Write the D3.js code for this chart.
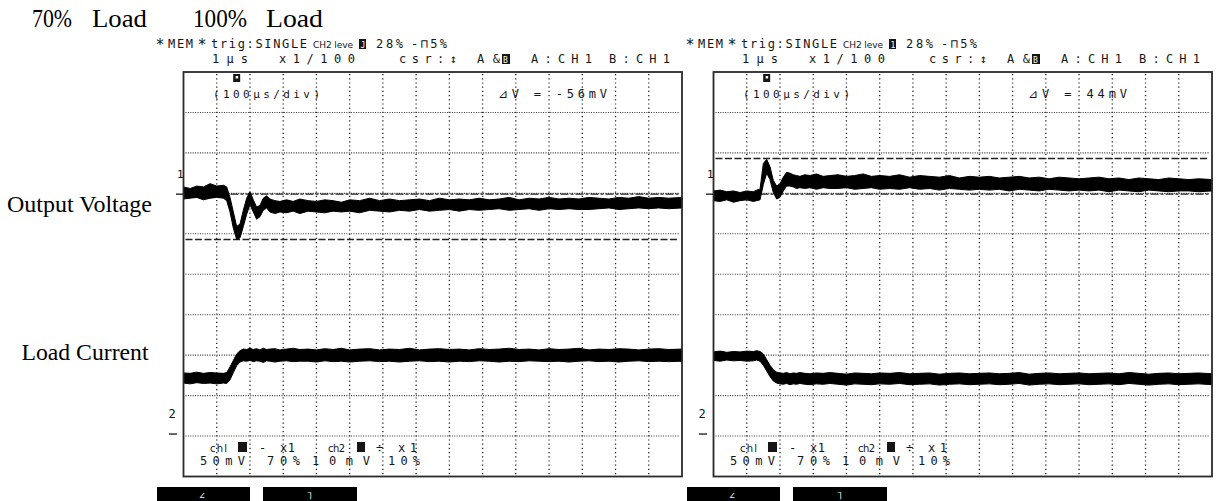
<!DOCTYPE html>
<html><head><meta charset="utf-8">
<script src="https://cdn.jsdelivr.net/npm/d3@7"></script>
<style>html,body{margin:0;padding:0;background:#fff;overflow:hidden}svg{display:block}</style>
</head><body><svg id="c" width="1220" height="501"></svg>
<script>
// ---------------- DATA ----------------
const titleWords = ["70%", "Load", "100%", "Load"];
const rowLabels = ["Output Voltage", "Load Current"];
const timeUs = [0,20,40,60,80,100,120,130,140,150,160,170,180,190,200,210,220,230,240,250,260,275,290,310,330,350,375,400,425,450,475,500,530,560,590,620,650,680,710,740,770,800,830,860,890,920,950,980,1010,1040,1070,1100,1130,1160,1190,1220,1250,1280,1310,1340,1370,1400,1430,1460,1500];

// 70% load panel: CH1 output voltage (mV vs ch1 marker), CH2 load current (mV vs ch2 marker)
const v70Upper = [9,7,10,9,13,10, 11,9,-4,-22,-40,-37,-20,-5,3, -7,-16,-14,-5,-2,-6, -8,-9,-7,-9,-6, -8,-9,-7,-8,-10,-7, -8,-5,-8,-6,-8,-7,-6,-8,-5,-7, -6,-7,-5,-7,-6,-4,-7,-5,-6,-4, -6,-5,-6,-4,-5,-6,-4,-5,-3,-5, -4,-5,-4];
const v70Lower = [-6,-5,-4,-7,-5,-4, -5,-8,-22,-42,-56,-54,-40,-25,-13, -22,-31,-28,-20,-17,-22, -24,-22,-23,-21,-24, -21,-22,-23,-21,-22,-21, -23,-20,-21,-22,-20,-21,-19,-21,-20,-19, -21,-19,-20,-19,-18,-20,-19,-18,-20,-18, -19,-18,-19,-19,-18,-17,-19,-18,-17,-18, -17,-18,-17];
const i70Upper = [15.1,15.0,15.3,15.0,15.2,15.1, 15.0,15.2,16.6,18.2,19.8,20.6,21.0,20.9,21.2, 20.9,21.1,20.8,21.2,20.9,21.0, 21.1,20.8,21.0,21.2,20.9, 21.0,20.8,21.1,20.9,21.2,20.8, 21.0,21.1,20.8,21.0,20.9,21.2,20.8,21.0,21.1,20.9, 21.0,20.8,21.1,20.9,21.0,21.2,20.9,21.0,20.8,21.1, 20.9,21.0,21.2,20.8,21.0,20.9,21.1,21.0,20.8,21.0, 21.1,20.9,21.0];
const i70Lower = [12.6,12.4,12.7,12.5,12.6,12.4, 12.6,12.5,13.4,15.2,16.9,17.8,18.1,18.0,18.2, 17.9,18.1,18.0,17.7,18.1,18.0, 17.8,18.0,18.1,17.9,18.0, 18.0,17.8,18.1,17.9,18.0,17.8, 18.0,18.1,17.9,18.0,17.8,18.0,18.1,17.9,18.0,17.8, 18.0,17.9,18.1,18.0,17.8,18.0,17.9,18.1,18.0,17.9, 18.0,17.8,18.0,18.1,17.9,18.0,17.8,18.0,18.1,17.9, 18.0,17.9,18.0];

// 100% load panel
const v100Upper = [4,5,3,4,2,4, 3,5,6,38,43,34,17,10,13, 21,27,26,24,23,22, 24,23,25,22,23, 24,22,23,25,22,23, 22,24,21,23,22,21,23,20,22,21, 22,20,21,22,20,21,19,21,20,19, 20,21,19,20,18,20,19,18,20,19, 18,19,18];
const v100Lower = [-8,-9,-7,-10,-8,-7, -9,-8,-7,12,26,18,2,-6,-4, 4,10,10,9,7,8, 7,8,6,8,7, 7,8,6,7,8,6, 7,6,8,6,7,5,7,6,5,6, 5,6,4,6,5,4,6,5,4,5, 4,5,3,5,4,3,5,4,3,4, 4,3,4];
const i100Upper = [20.3,20.5,20.2,20.4,20.3,20.5, 20.4,20.6,20.4,19.8,18.4,17.0,15.9,15.3,15.1, 15.0,15.2,14.9,15.1,15.0,15.2, 15.0,14.9,15.1,15.0,15.2, 15.0,14.8,15.1,15.0,14.9,15.1, 15.0,15.2,14.9,15.0,15.1,14.8,15.0,15.1,14.9,15.0, 15.1,14.9,15.0,15.2,14.8,15.0,15.1,14.9,15.0,15.1, 14.9,15.0,15.1,14.9,15.2,15.0,14.8,15.0,15.1,14.9, 15.0,15.1,14.9];
const i100Lower = [18.2,18.0,18.3,18.1,18.2,18.0, 18.1,18.3,18.0,17.0,15.6,14.2,13.1,12.6,12.4, 12.3,12.5,12.2,12.4,12.3,12.5, 12.3,12.2,12.4,12.3,12.5, 12.3,12.1,12.4,12.3,12.2,12.4, 12.3,12.5,12.2,12.3,12.4,12.1,12.3,12.4,12.2,12.3, 12.4,12.2,12.3,12.5,12.1,12.3,12.4,12.2,12.3,12.4, 12.2,12.3,12.4,12.2,12.5,12.3,12.1,12.3,12.4,12.2, 12.3,12.4,12.2];

const cursorsMv = [[0, -56], [0, 44]];
const deltaLabels = ["⊿V = -56mV", "⊿V = 44mV"];
const triggerUs = [160, 160];
const headerLine1 = ["*", "MEM", "*", "trig:SINGLE", "CH2 leve", "28%", "-⊓5%"];
const headerLine2 = ["1µs", "x1/100", "csr:↕", "A&", "A:CH1", "B:CH1"];
const timebaseLabel = "(100µs/div)";
const chLine1 = ["chl", "-", "x1", "ch2", "÷", "x1"];
const chLine2 = ["50mV", "70%", "10mV", "10%"];
const ch1Scale = 50, ch2Scale = 10;   // mV/div
const ch1OffsetDiv = 1.98, ch2OffsetDiv = -3.95; // marker position vs screen centre

// ---------------- DRAWING ----------------
const svg = d3.select("#c");
const serif = "'Liberation Serif','Times New Roman',serif";
const mono = "'DejaVu Sans Mono',monospace";
const ink = "#151515";

const titleX = [32, 92, 193, 266], titleW = [40, 55, 54, 57];
svg.selectAll("text.title").data(titleWords).join("text")
  .attr("x", (d, i) => titleX[i]).attr("y", 27)
  .attr("font-family", serif).attr("font-size", 25).attr("fill", "#000")
  .attr("textLength", (d, i) => titleW[i]).attr("lengthAdjust", "spacingAndGlyphs")
  .text(d => d);

const labelX = [7, 21.5], labelY = [212, 360], labelW = [145, 127];
svg.selectAll("text.rowlab").data(rowLabels).join("text")
  .attr("x", (d, i) => labelX[i]).attr("y", (d, i) => labelY[i])
  .attr("font-family", serif).attr("font-size", 24).attr("fill", "#000")
  .attr("textLength", (d, i) => labelW[i]).attr("lengthAdjust", "spacingAndGlyphs")
  .text(d => d);

const panels = [
  {dx: 0, vU: v70Upper, vL: v70Lower, iU: i70Upper, iL: i70Lower},
  {dx: 530, vU: v100Upper, vL: v100Lower, iU: i100Upper, iL: i100Lower}
];

const F = {left: 183.5, right: 682, top: 72, bottom: 476.5};

function txt(g, s, x, y, opt = {}) {
  const t = g.append("text").attr("x", x).attr("y", y)
    .attr("font-family", opt.family || mono).attr("font-size", opt.size || 12)
    .attr("fill", opt.fill || ink).attr("font-weight", opt.weight || "normal").text(s);
  if (opt.tl) t.attr("textLength", opt.tl).attr("lengthAdjust", opt.squash ? "spacingAndGlyphs" : "spacing");
  return t;
}

panels.forEach((p, pi) => {
  const g = svg.append("g").attr("transform", `translate(${p.dx},0)`);
  const x = d3.scaleLinear().domain([0, 1500]).range([F.left, F.right]);
  const y1 = d3.scaleLinear().domain([-(5 + ch1OffsetDiv) * ch1Scale, (5 - ch1OffsetDiv) * ch1Scale]).range([F.bottom, F.top]);
  const y2 = d3.scaleLinear().domain([-(5 + ch2OffsetDiv) * ch2Scale, (5 - ch2OffsetDiv) * ch2Scale]).range([F.bottom, F.top]);
  const divY = d3.scaleLinear().domain([0, 10]).range([F.top, F.bottom]);

  // grid
  const vx = d3.range(1, 15).map(k => x(k * 100));
  g.selectAll("line.gv").data(vx).join("line")
    .attr("x1", d => d).attr("x2", d => d).attr("y1", F.top + 2).attr("y2", F.bottom - 2)
    .attr("stroke", "#222").attr("stroke-width", 1.3).attr("stroke-dasharray", "1.2,3");
  const hy = d3.range(1, 10).map(k => divY(k));
  g.selectAll("line.gh").data(hy).join("line")
    .attr("x1", F.left + 2).attr("x2", F.right - 2).attr("y1", d => d).attr("y2", d => d)
    .attr("stroke", "#333").attr("stroke-width", 1.1).attr("stroke-dasharray", "1,1.4");

  // cursors
  const cur = cursorsMv[pi];
  g.append("line").attr("x1", F.left + 2).attr("x2", F.right - 3)
    .attr("y1", y1(cur[0])).attr("y2", y1(cur[0]))
    .attr("stroke", "#222").attr("stroke-width", 1.4).attr("stroke-dasharray", "8,2,3,2");
  g.append("line").attr("x1", F.left + 2).attr("x2", F.right - 3)
    .attr("y1", y1(cur[1])).attr("y2", y1(cur[1]))
    .attr("stroke", "#222").attr("stroke-width", 1.4).attr("stroke-dasharray", "7,2.5");

  // traces
  const idx = d3.range(timeUs.length);
  const areaV = d3.area().x(i => x(timeUs[i])).y0(i => y1(p.vL[i])).y1(i => y1(p.vU[i]));
  const areaI = d3.area().x(i => x(timeUs[i])).y0(i => y2(p.iL[i])).y1(i => y2(p.iU[i]));
  g.append("path").attr("d", areaV(idx)).attr("fill", "#000").attr("stroke", "#000").attr("stroke-width", 1).attr("stroke-linejoin", "miter");
  g.append("path").attr("d", areaI(idx)).attr("fill", "#000").attr("stroke", "#000").attr("stroke-width", 1).attr("stroke-linejoin", "miter");

  // frame
  g.append("rect").attr("x", F.left).attr("y", F.top)
    .attr("width", F.right - F.left).attr("height", F.bottom - F.top)
    .attr("fill", "none").attr("stroke", "#2a2a2a").attr("stroke-width", 1.8);

  // channel markers
  txt(g, "1", 177, 178, {size: 11});
  g.append("line").attr("x1", 176).attr("x2", 183).attr("y1", y1(0)).attr("y2", y1(0)).attr("stroke", ink).attr("stroke-width", 1.3);
  txt(g, "2", 168.5, 418, {size: 12});
  g.append("line").attr("x1", 169).attr("x2", 177).attr("y1", y2(0)).attr("y2", y2(0)).attr("stroke", ink).attr("stroke-width", 1.3);

  // trigger marker
  const tx = x(triggerUs[pi]);
  g.append("rect").attr("x", tx - 3.5).attr("y", 74).attr("width", 7).attr("height", 8).attr("fill", ink);
  g.append("rect").attr("x", tx - 1).attr("y", 76).attr("width", 2.5).attr("height", 2.5).attr("fill", "#fff");

  // header line 1
  txt(g, headerLine1[0], 155.5, 50, {size: 15});
  txt(g, headerLine1[1], 168, 48, {size: 12, tl: 25});
  txt(g, headerLine1[2], 197.5, 50, {size: 15});
  txt(g, headerLine1[3], 211, 48, {size: 12, tl: 96});
  txt(g, headerLine1[4], 313, 48, {size: 9, tl: 40, family: "'DejaVu Sans',sans-serif"});
  g.append("rect").attr("x", 359).attr("y", 39).attr("width", 7).attr("height", 10).attr("fill", ink);
  txt(g, pi === 0 ? "J" : "1", 360.5, 47.5, {size: 8, fill: "#fff"});
  txt(g, headerLine1[5], 376, 48, {size: 12, tl: 27});
  txt(g, headerLine1[6], 411, 48, {size: 12, tl: 36});

  // header line 2
  txt(g, headerLine2[0], 212, 63, {size: 12, tl: 36});
  txt(g, headerLine2[1], 279, 63, {size: 12, tl: 76});
  txt(g, headerLine2[2], 399, 63, {size: 12, tl: 58});
  txt(g, headerLine2[3], 477, 63, {size: 12, tl: 23});
  g.append("rect").attr("x", 502).attr("y", 54).attr("width", 8).attr("height", 10).attr("fill", ink);
  txt(g, "B", 503, 62.5, {size: 8, fill: "#fff"});
  txt(g, headerLine2[4], 531, 63, {size: 12, tl: 61});
  txt(g, headerLine2[5], 609, 63, {size: 12, tl: 61});

  // in-grid labels
  txt(g, timebaseLabel, 213, 98, {size: 11, tl: 107});
  txt(g, deltaLabels[pi], 498, 98, {size: 12, tl: pi === 0 ? 109 : 99});

  // channel settings
  txt(g, chLine1[0], 210, 452, {size: 10, tl: 17, family: "'DejaVu Sans',sans-serif"});
  g.append("rect").attr("x", 238).attr("y", 442).attr("width", 9).attr("height", 10).attr("fill", ink);
  txt(g, chLine1[1], 259, 452, {size: 12});
  txt(g, chLine1[2], 280, 452, {size: 12, tl: 15});
  txt(g, chLine1[3], 328, 452, {size: 10, tl: 17, family: "'DejaVu Sans',sans-serif"});
  g.append("rect").attr("x", 357).attr("y", 442).attr("width", 8).attr("height", 10).attr("fill", ink);
  txt(g, chLine1[4], 376, 452, {size: 12});
  txt(g, chLine1[5], 398, 452, {size: 12, tl: 19});
  txt(g, chLine2[0], 200, 465, {size: 12, tl: 45});
  txt(g, chLine2[1], 267, 465, {size: 12, tl: 33});
  txt(g, chLine2[2], 312, 465, {size: 12, tl: 58});
  txt(g, chLine2[3], 388, 465, {size: 12, tl: 32});

  // soft-key bars
  g.append("rect").attr("x", 157).attr("y", 487).attr("width", 93).attr("height", 14).attr("fill", "#000");
  g.append("rect").attr("x", 263).attr("y", 487).attr("width", 94).attr("height", 14).attr("fill", "#000");
  txt(g, "∠", 199, 499, {size: 10, fill: "#fff"});
  txt(g, "˥", 306, 499, {size: 11, fill: "#fff"});
});
</script>
</body></html>
